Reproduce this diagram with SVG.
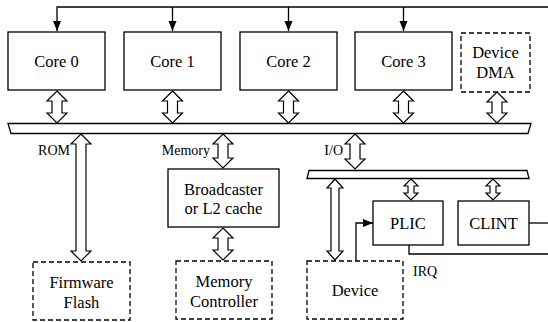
<svg xmlns="http://www.w3.org/2000/svg" xmlns:xlink="http://www.w3.org/1999/xlink" width="548" height="322" viewBox="0 0 548 322">
<style>
.box{fill:#fff;stroke:#000;stroke-width:1.3}
.dash{fill:#fff;stroke:#000;stroke-width:1.3;stroke-dasharray:5,3}
.ln{fill:none;stroke:#000;stroke-width:1.3}
.arr{fill:#fff;stroke:#000;stroke-width:1.2;stroke-linejoin:miter}
text{font-family:'Liberation Serif','Times New Roman',Times,'DejaVu Serif','Noto Serif',serif;fill:#000}
.t{font-size:16.5px;text-anchor:middle}
.l{font-size:14px}
</style>
<defs>
<marker id="ah" markerUnits="userSpaceOnUse" markerWidth="10" markerHeight="10" viewBox="0 0 10 10" refX="10" refY="5" orient="auto">
<path d="M0,1 L10,5 L0,9 Z" fill="#000"/>
</marker>
<path id="dbl" d="M0,91 L10,101 L5,101 L5,113 L10,113 L0,123 L-10,113 L-5,113 L-5,101 L-10,101 Z"/>
</defs>
<g id="connectors">
<path class="ln" d="M548,7 H57 V31" marker-end="url(#ah)"/>
<path class="ln" d="M172.5,7 V31" marker-end="url(#ah)"/>
<path class="ln" d="M288.5,7 V31" marker-end="url(#ah)"/>
<path class="ln" d="M403.5,7 V31" marker-end="url(#ah)"/>
<use xlink:href="#dbl" class="arr" x="57"/>
<use xlink:href="#dbl" class="arr" x="172.5"/>
<use xlink:href="#dbl" class="arr" x="288.5"/>
<use xlink:href="#dbl" class="arr" x="403.5"/>
<path class="arr" d="M497,92 L507,102 L502,102 L502,113 L507,113 L497,123 L487,113 L492,113 L492,102 L487,102 Z"/>
<path class="arr" d="M81,134 L91,144 L86,144 L86,251 L91,251 L81,261 L71,251 L76,251 L76,144 L71,144 Z"/>
<path class="arr" d="M223,134 L233,144 L228,144 L228,158 L233,158 L223,168 L213,158 L218,158 L218,144 L213,144 Z"/>
<path class="arr" d="M355,134 L365,144 L360,144 L360,159 L365,159 L355,169 L345,159 L350,159 L350,144 L345,144 Z"/>
<path class="arr" d="M223,228 L233,238 L228,238 L228,250 L233,250 L223,260 L213,250 L218,250 L218,238 L213,238 Z"/>
<path class="arr" d="M335,179 L343,188 L339,188 L339,251 L343,251 L335,260 L327,251 L331,251 L331,188 L327,188 Z"/>
<path class="arr" d="M411,179 L418,186 L414,186 L414,193 L418,193 L411,200 L404,193 L408,193 L408,186 L404,186 Z"/>
<path class="arr" d="M493,179 L500,186 L496,186 L496,193 L500,193 L493,200 L486,193 L490,193 L490,186 L486,186 Z"/>
<path class="ln" d="M356,261 V223 H373" marker-end="url(#ah)"/>
<path class="ln" d="M409,245 V254 H548"/>
<path class="ln" d="M529,223 H548"/>
</g>
<g id="bus"><path class="box" d="M8,123.5 H531 L528,133.5 H11 Z"/></g>
<g id="io-bus"><path class="box" d="M309,170.5 H527 L529,178.5 H307 Z"/></g>
<g id="core0"><rect class="box" x="8" y="32" width="97" height="58"/><text class="t" x="56.5" y="66.5">Core 0</text></g>
<g id="core1"><rect class="box" x="124" y="32" width="97" height="58"/><text class="t" x="172.5" y="66.5">Core 1</text></g>
<g id="core2"><rect class="box" x="240" y="32" width="97" height="58"/><text class="t" x="288.5" y="66.5">Core 2</text></g>
<g id="core3"><rect class="box" x="355" y="32" width="97" height="58"/><text class="t" x="403.5" y="66.5">Core 3</text></g>
<g id="dma"><rect class="dash" x="461" y="33" width="69" height="59"/><text class="t" x="495.5" y="58">Device</text><text class="t" x="495.5" y="78">DMA</text></g>
<g id="broadcaster"><rect class="box" x="168" y="169" width="111" height="58"/><text class="t" x="223.5" y="195">Broadcaster</text><text class="t" x="223.5" y="214">or L2 cache</text></g>
<g id="flash"><rect class="dash" x="33" y="262" width="97" height="58"/><text class="t" x="81.5" y="288">Firmware</text><text class="t" x="81.5" y="308">Flash</text></g>
<g id="memctrl"><rect class="dash" x="176" y="261" width="96" height="58"/><text class="t" x="224" y="287">Memory</text><text class="t" x="224" y="307">Controller</text></g>
<g id="device"><rect class="dash" x="307" y="261" width="96" height="58"/><text class="t" x="355" y="296">Device</text></g>
<g id="plic"><rect class="box" x="373" y="201" width="70" height="44"/><text class="t" x="408" y="228.5">PLIC</text></g>
<g id="clint"><rect class="box" x="458" y="201" width="71" height="44"/><text class="t" x="493.5" y="228.5">CLINT</text></g>
<g id="labels">
<text class="l" x="70" y="155" text-anchor="end">ROM</text>
<text class="l" x="210" y="155" text-anchor="end">Memory</text>
<text class="l" x="343" y="155" text-anchor="end">I/O</text>
<text class="l" x="413" y="276">IRQ</text>
</g>
</svg>
